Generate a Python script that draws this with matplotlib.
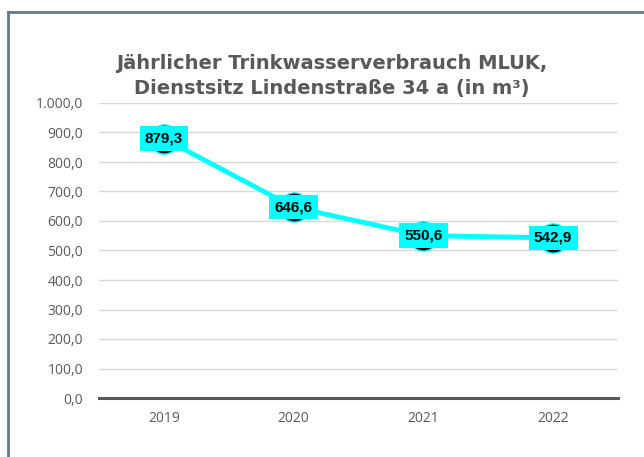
import matplotlib
matplotlib.use("Agg")
import matplotlib.pyplot as plt
from matplotlib.lines import Line2D

years = ["2019", "2020", "2021", "2022"]
values = [879.3, 646.6, 550.6, 542.9]
value_labels = ["879,3", "646,6", "550,6", "542,9"]
yticks = [0, 100, 200, 300, 400, 500, 600, 700, 800, 900, 1000]
ytick_labels = ["0,0", "100,0", "200,0", "300,0", "400,0", "500,0", "600,0",
                "700,0", "800,0", "900,0", "1.000,0"]
title = "Jährlicher Trinkwasserverbrauch MLUK,\nDienstsitz Lindenstraße 34 a (in m³)"

W, H = 644, 457
fig = plt.figure(figsize=(W / 100, H / 100), dpi=100)
fig.patch.set_facecolor("white")

# outer frame (top and left visible)
fc = "#647a86"
fig.add_artist(Line2D([7.5 / W, 1.0], [1 - 11.5 / H, 1 - 11.5 / H], color=fc, lw=2.0, transform=fig.transFigure))
fig.add_artist(Line2D([7.5 / W, 7.5 / W], [0.0, 1 - 11.5 / H], color=fc, lw=2.0, transform=fig.transFigure))

ax = fig.add_axes([99 / W, 59 / H, (618 - 99) / W, (398 - 103) / H])
ax.set_facecolor("none")
x = list(range(len(years)))
ax.set_xlim(-0.5, len(years) - 0.5)
ax.set_ylim(0, 1000)

for t in yticks[1:]:
    ax.axhline(t, color="#d9d9d9", lw=1.0, zorder=0)
ax.axhline(0, color="#595959", lw=2.2, zorder=1, clip_on=False)

ax.plot(x, values, color="#00ffff", lw=3.5, zorder=2, solid_capstyle="round")
ax.plot(x, values, ls="none", marker="o", ms=21, mfc="black", mec="#00ffff", mew=1.0, zorder=3)

for xi, v, lab in zip(x, values, value_labels):
    ax.text(xi, v, lab, ha="center", va="center", fontsize=11, fontweight="bold",
            color="black", family="Liberation Sans", zorder=4,
            bbox=dict(boxstyle="square,pad=0.34", fc="#00ffff", ec="none"))

for s in ax.spines.values():
    s.set_visible(False)
ax.set_yticks(yticks)
ax.set_yticklabels(ytick_labels)
ax.set_xticks(x)
ax.set_xticklabels(years)
ax.tick_params(axis="both", length=0, colors="#595959", labelsize=10)
ax.tick_params(axis="y", pad=11.5)
ax.tick_params(axis="x", pad=9)
for lab in ax.get_xticklabels() + ax.get_yticklabels():
    lab.set_family("Open Sans")

fig.text(332 / W, 1 - 76 / H, title, ha="center", va="center", fontsize=14,
         fontweight="bold", color="#595959", family="DejaVu Sans", linespacing=1.42)

fig.savefig("out.png", dpi=100, facecolor="white")
